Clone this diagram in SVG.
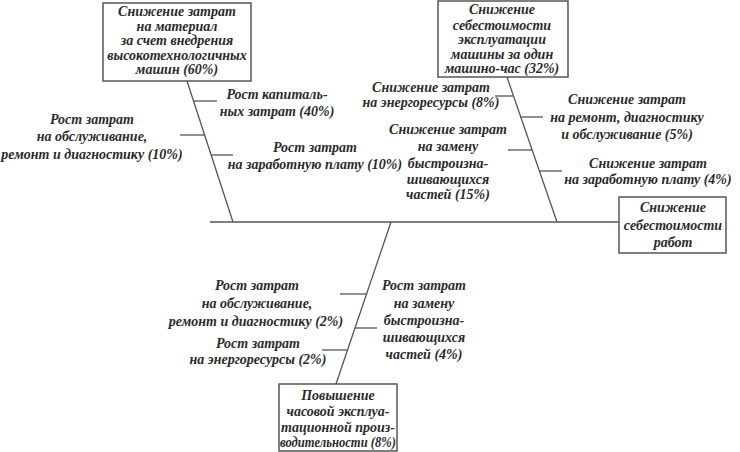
<svg xmlns="http://www.w3.org/2000/svg" width="740" height="452" viewBox="0 0 740 452">
<style>
text{font-family:"Liberation Serif","Times New Roman",serif;font-weight:bold;font-style:italic;font-size:14px;fill:#2a2a2a;text-anchor:middle}
.box{fill:#fff;stroke:#555;stroke-width:1.5}
.ln{stroke:#555;stroke-width:1.3;fill:none}
</style>
<rect width="740" height="452" fill="#fff"/>
<g id="connectors">
<path class="ln" d="M210,222H619"/>
<path class="ln" d="M187,81L233,222"/>
<path class="ln" d="M507,77L557,222"/>
<path class="ln" d="M391,222L336,384"/>
<path class="ln" d="M193.5,101H217"/>
<path class="ln" d="M180,135H204.6"/>
<path class="ln" d="M211,155H233"/>
<path class="ln" d="M495,96H513.5"/>
<path class="ln" d="M520.8,117H543"/>
<path class="ln" d="M508,150H532.2"/>
<path class="ln" d="M539.4,171H562"/>
<path class="ln" d="M340,294H366.6"/>
<path class="ln" d="M355,328H377"/>
<path class="ln" d="M322,350H347.5"/>
</g>
<g id="cause-material">
<rect class="box" x="103" y="3" width="148" height="78"/>
<text x="177" y="16">Снижение затрат</text>
<text x="177" y="30.5">на материал</text>
<text x="177" y="45">за счет внедрения</text>
<text x="177" y="59.5">высокотехнологичных</text>
<text x="177" y="74">машин (60%)</text>
</g>
<g id="cause-operation">
<rect class="box" x="438" y="1" width="130" height="76"/>
<text x="502" y="14">Снижение</text>
<text x="502" y="29.5">себестоимости</text>
<text x="502" y="44">эксплуатации</text>
<text x="502" y="58.5">машины за один</text>
<text x="502" y="73">машино-час (32%)</text>
</g>
<g id="effect">
<rect class="box" x="619" y="197" width="107" height="56"/>
<text x="673" y="212">Снижение</text>
<text x="673" y="230">себестоимости</text>
<text x="673" y="247">работ</text>
</g>
<g id="cause-productivity">
<rect class="box" x="279" y="384" width="118" height="67"/>
<text x="338" y="400">Повышение</text>
<text x="338" y="416">часовой эксплуа-</text>
<text x="338" y="432">тационной произ-</text>
<text x="338" y="447" textLength="116" lengthAdjust="spacingAndGlyphs">водительности (8%)</text>
</g>
<g id="label-capital">
<text x="277" y="99">Рост капиталь-</text>
<text x="277" y="116">ных затрат (40%)</text>
</g>
<g id="label-service-10">
<text x="92" y="124">Рост затрат</text>
<text x="92" y="141">на обслуживание,</text>
<text x="92" y="159">ремонт и диагностику (10%)</text>
</g>
<g id="label-salary-10">
<text x="315" y="152">Рост затрат</text>
<text x="315" y="169">на заработную плату (10%)</text>
</g>
<g id="label-energy-8">
<text x="431" y="92">Снижение затрат</text>
<text x="431" y="107">на энергоресурсы (8%)</text>
</g>
<g id="label-repair-5">
<text x="627" y="104">Снижение затрат</text>
<text x="627" y="122">на ремонт, диагностику</text>
<text x="627" y="139">и обслуживание (5%)</text>
</g>
<g id="label-parts-15">
<text x="448" y="134">Снижение затрат</text>
<text x="448" y="151">на замену</text>
<text x="448" y="168">быстроизна-</text>
<text x="448" y="184">шивающихся</text>
<text x="448" y="199">частей (15%)</text>
</g>
<g id="label-salary-4">
<text x="648" y="168">Снижение затрат</text>
<text x="648" y="184">на заработную плату (4%)</text>
</g>
<g id="label-service-2">
<text x="257" y="290">Рост затрат</text>
<text x="257" y="308">на обслуживание,</text>
<text x="256" y="326">ремонт и диагностику (2%)</text>
</g>
<g id="label-parts-4">
<text x="424" y="290">Рост затрат</text>
<text x="424" y="308">на замену</text>
<text x="424" y="325">быстроизна-</text>
<text x="424" y="342">шивающихся</text>
<text x="424" y="359">частей (4%)</text>
</g>
<g id="label-energy-2">
<text x="258" y="348">Рост затрат</text>
<text x="258" y="364">на энергоресурсы (2%)</text>
</g>
</svg>
